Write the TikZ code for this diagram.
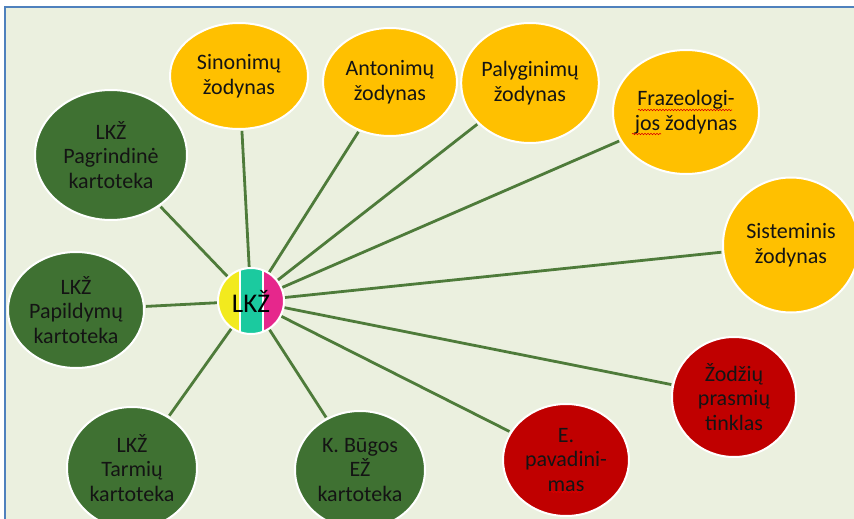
\documentclass[tikz,border=0pt]{standalone}
\usepackage{fontspec}
\setmainfont{Carlito}
\usetikzlibrary{shapes.geometric,calc,decorations.pathmorphing}
\definecolor{bgc}{HTML}{EBF0DF}
\definecolor{frameblue}{HTML}{4F81BD}
\definecolor{ylw}{HTML}{FFC000}
\definecolor{grn}{HTML}{3F7132}
\definecolor{rd}{HTML}{C00000}
\definecolor{linegreen}{HTML}{4E7B3A}
\definecolor{lkzy}{HTML}{F2EA1E}
\definecolor{lkzt}{HTML}{1BCA9F}
\definecolor{lkzp}{HTML}{E6278C}
\definecolor{txt}{HTML}{141414}
\tikzset{
  bubble/.style={ellipse, draw=white, line width=2pt, inner sep=0pt, align=center,
    text=txt, font=\fontsize{22}{24.5}\selectfont},
  yb/.style={bubble, fill=ylw},
  gb/.style={bubble, fill=grn},
  rb/.style={bubble, fill=rd},
  link/.style={draw=linegreen, line width=2.8pt},
  spell/.style={draw=red!85!black, line width=0.6pt, decorate,
    decoration={snake, amplitude=0.7pt, segment length=3pt}}
}
\begin{document}
\begin{tikzpicture}[x=1pt,y=-1pt]
\useasboundingbox (0,0) rectangle (854,519);
\fill[white] (0,0) rectangle (854,519);
\fill[bgc] (5,7) rectangle (860,525);
\draw[frameblue, line width=1.5pt] (5,525) -- (5,7) -- (860,7);

% yellow
\node[yb, minimum width=138pt, minimum height=106pt] (sin) at (239,76) {Sinonimų\\žodynas};
\node[yb, minimum width=134pt, minimum height=108pt] (ant) at (390,82) {Antonimų\\žodynas};
\node[yb, minimum width=136pt, minimum height=120pt] (pal) at (530,83) {Palyginimų\\žodynas};
\node[yb, minimum width=146pt, minimum height=124pt] (fra) at (686,112) {Frazeologi-\\jos žodynas};
\node[yb, minimum width=136pt, minimum height=135pt] (sis) at (791,245) {Sisteminis\\žodynas};
% red
\node[rb, minimum width=124pt, minimum height=120pt] (zod) at (734,397) {Žodžių\\prasmių\\tinklas};
\node[rb, minimum width=126pt, minimum height=112pt] (epa) at (566,460) {E.\\pavadini-\\mas};
% green
\node[gb, minimum width=130pt, minimum height=118pt] (bug) at (360,470) {K. Būgos\\EŽ\\kartoteka};
\node[gb, minimum width=130pt, minimum height=122pt] (tar) at (132,468) {LKŽ\\Tarmių\\kartoteka};
\node[gb, minimum width=136pt, minimum height=116pt] (pap) at (76,310) {LKŽ\\Papildymų\\kartoteka};
\node[gb, minimum width=152pt, minimum height=130pt] (pag) at (111,155) {LKŽ\\Pagrindinė\\kartoteka};

% centre
\node[circle, minimum size=66pt, inner sep=0pt, text=black,
  font=\fontsize{27}{30}\selectfont,
  path picture={
    \fill[lkzy] (path picture bounding box.south west) rectangle ([xshift=22pt]path picture bounding box.north west);
    \fill[lkzt] ([xshift=22pt]path picture bounding box.south west) rectangle ([xshift=45pt]path picture bounding box.north west);
    \fill[lkzp] ([xshift=45pt]path picture bounding box.south west) rectangle (path picture bounding box.north east);
    \draw[white, line width=1.3pt] ([xshift=22pt]path picture bounding box.south west) -- ([xshift=22pt]path picture bounding box.north west);
    \draw[white, line width=1.3pt] ([xshift=45pt]path picture bounding box.south west) -- ([xshift=45pt]path picture bounding box.north west);
  }] (c) at (251,301) {LKŽ};
\draw[white, line width=2pt] (c.center) circle (33pt);

% connectors
\foreach \t in {sin,ant,pal,fra,sis,zod,epa,bug,tar,pap,pag}
  \draw[link, shorten <=1pt, shorten >=1pt] (c) -- (\t);

% spell-check underlines
\draw[spell] ($(fra)+(-48,-2)$) -- ($(fra)+(46,-2)$);
\draw[spell] ($(fra)+(-54,22)$) -- ($(fra)+(-25,22)$);
\draw[spell] ($(epa)+(-15,32)$) -- ($(epa)+(17,32)$);
\end{tikzpicture}
\end{document}
